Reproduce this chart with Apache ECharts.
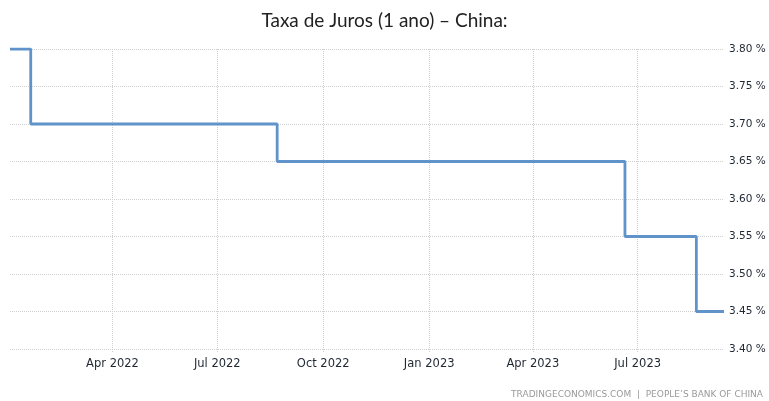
<!DOCTYPE html>
<html>
<head>
<meta charset="utf-8">
<script src="https://cdn.jsdelivr.net/npm/echarts@6/dist/echarts.min.js"></script>
<style>html,body{margin:0;padding:0;background:#fff}#c{width:769px;height:401px}</style>
</head>
<body>
<div id="c"></div>
<script>
const titleText = 'Taxa de Juros (1 ano) – China:';
const sourceText = 'TRADINGECONOMICS.COM  |  PEOPLE\u2019S BANK OF CHINA';
const dates = ['2022-01-02', '2022-01-20', '2022-08-22', '2023-06-20', '2023-08-21', '2023-09-14'];
const rates = [3.80, 3.70, 3.65, 3.55, 3.45, 3.45];
const xTicks = ['2022-04-01', '2022-07-01', '2022-10-01', '2023-01-01', '2023-04-01', '2023-07-01'];
const yTicks = [3.40, 3.45, 3.50, 3.55, 3.60, 3.65, 3.70, 3.75, 3.80];
const monthNames = ['Jan','Feb','Mar','Apr','May','Jun','Jul','Aug','Sep','Oct','Nov','Dec'];

const ts = s => { const [y,m,d] = s.split('-').map(Number); return Date.UTC(y, m-1, d); };
const data = dates.map((d, i) => [ts(d), rates[i]]);
const tickVals = xTicks.map(ts);

const chart = echarts.init(document.getElementById('c'), null, {renderer: 'canvas'});
chart.setOption({
  animation: false,
  backgroundColor: '#fff',
  title: {
    text: titleText, left: 'center', top: 6,
    textStyle: {fontFamily: 'Lato', fontSize: 19, fontWeight: 'normal', color: '#222'}
  },
  grid: {left: 10, right: 45, top: 49, bottom: 52},
  xAxis: {
    type: 'value', min: ts(dates[0]), max: ts(dates[dates.length-1]),
    axisLine: {show: false},
    axisTick: {show: true, customValues: tickVals, length: 4, lineStyle: {color: '#ccc', type: 'dotted'}},
    axisLabel: {
      customValues: tickVals, margin: 9,
      formatter: v => { const d = new Date(v); return monthNames[d.getUTCMonth()] + ' ' + d.getUTCFullYear(); },
      fontFamily: 'DejaVu Sans', fontSize: 11.5, color: '#1f2733'
    },
    splitLine: {show: true, lineStyle: {color: '#d0d0d0', type: 'dotted', width: 1}}
  },
  yAxis: {
    type: 'value', position: 'right', min: 3.40, max: 3.80, interval: 0.05,
    axisLine: {show: false}, axisTick: {show: false},
    axisLabel: {
      customValues: yTicks,
      margin: 5, formatter: v => v.toFixed(2) + ' %',
      fontFamily: 'DejaVu Sans', fontSize: 10.5, color: '#1f2733'
    },
    splitLine: {show: true, lineStyle: {color: '#d0d0d0', type: 'dotted', width: 1}}
  },
  graphic: [{
    type: 'text', right: 6, top: 390,
    style: {text: sourceText, fontFamily: 'DejaVu Sans', fontSize: 9, fill: '#9a9a9a'}
  }],
  series: [{
    type: 'line', step: 'end', data: data, showSymbol: false, symbol: 'none',
    lineStyle: {color: '#5f93ca', width: 2.8}
  }]
});
</script>
</body>
</html>
